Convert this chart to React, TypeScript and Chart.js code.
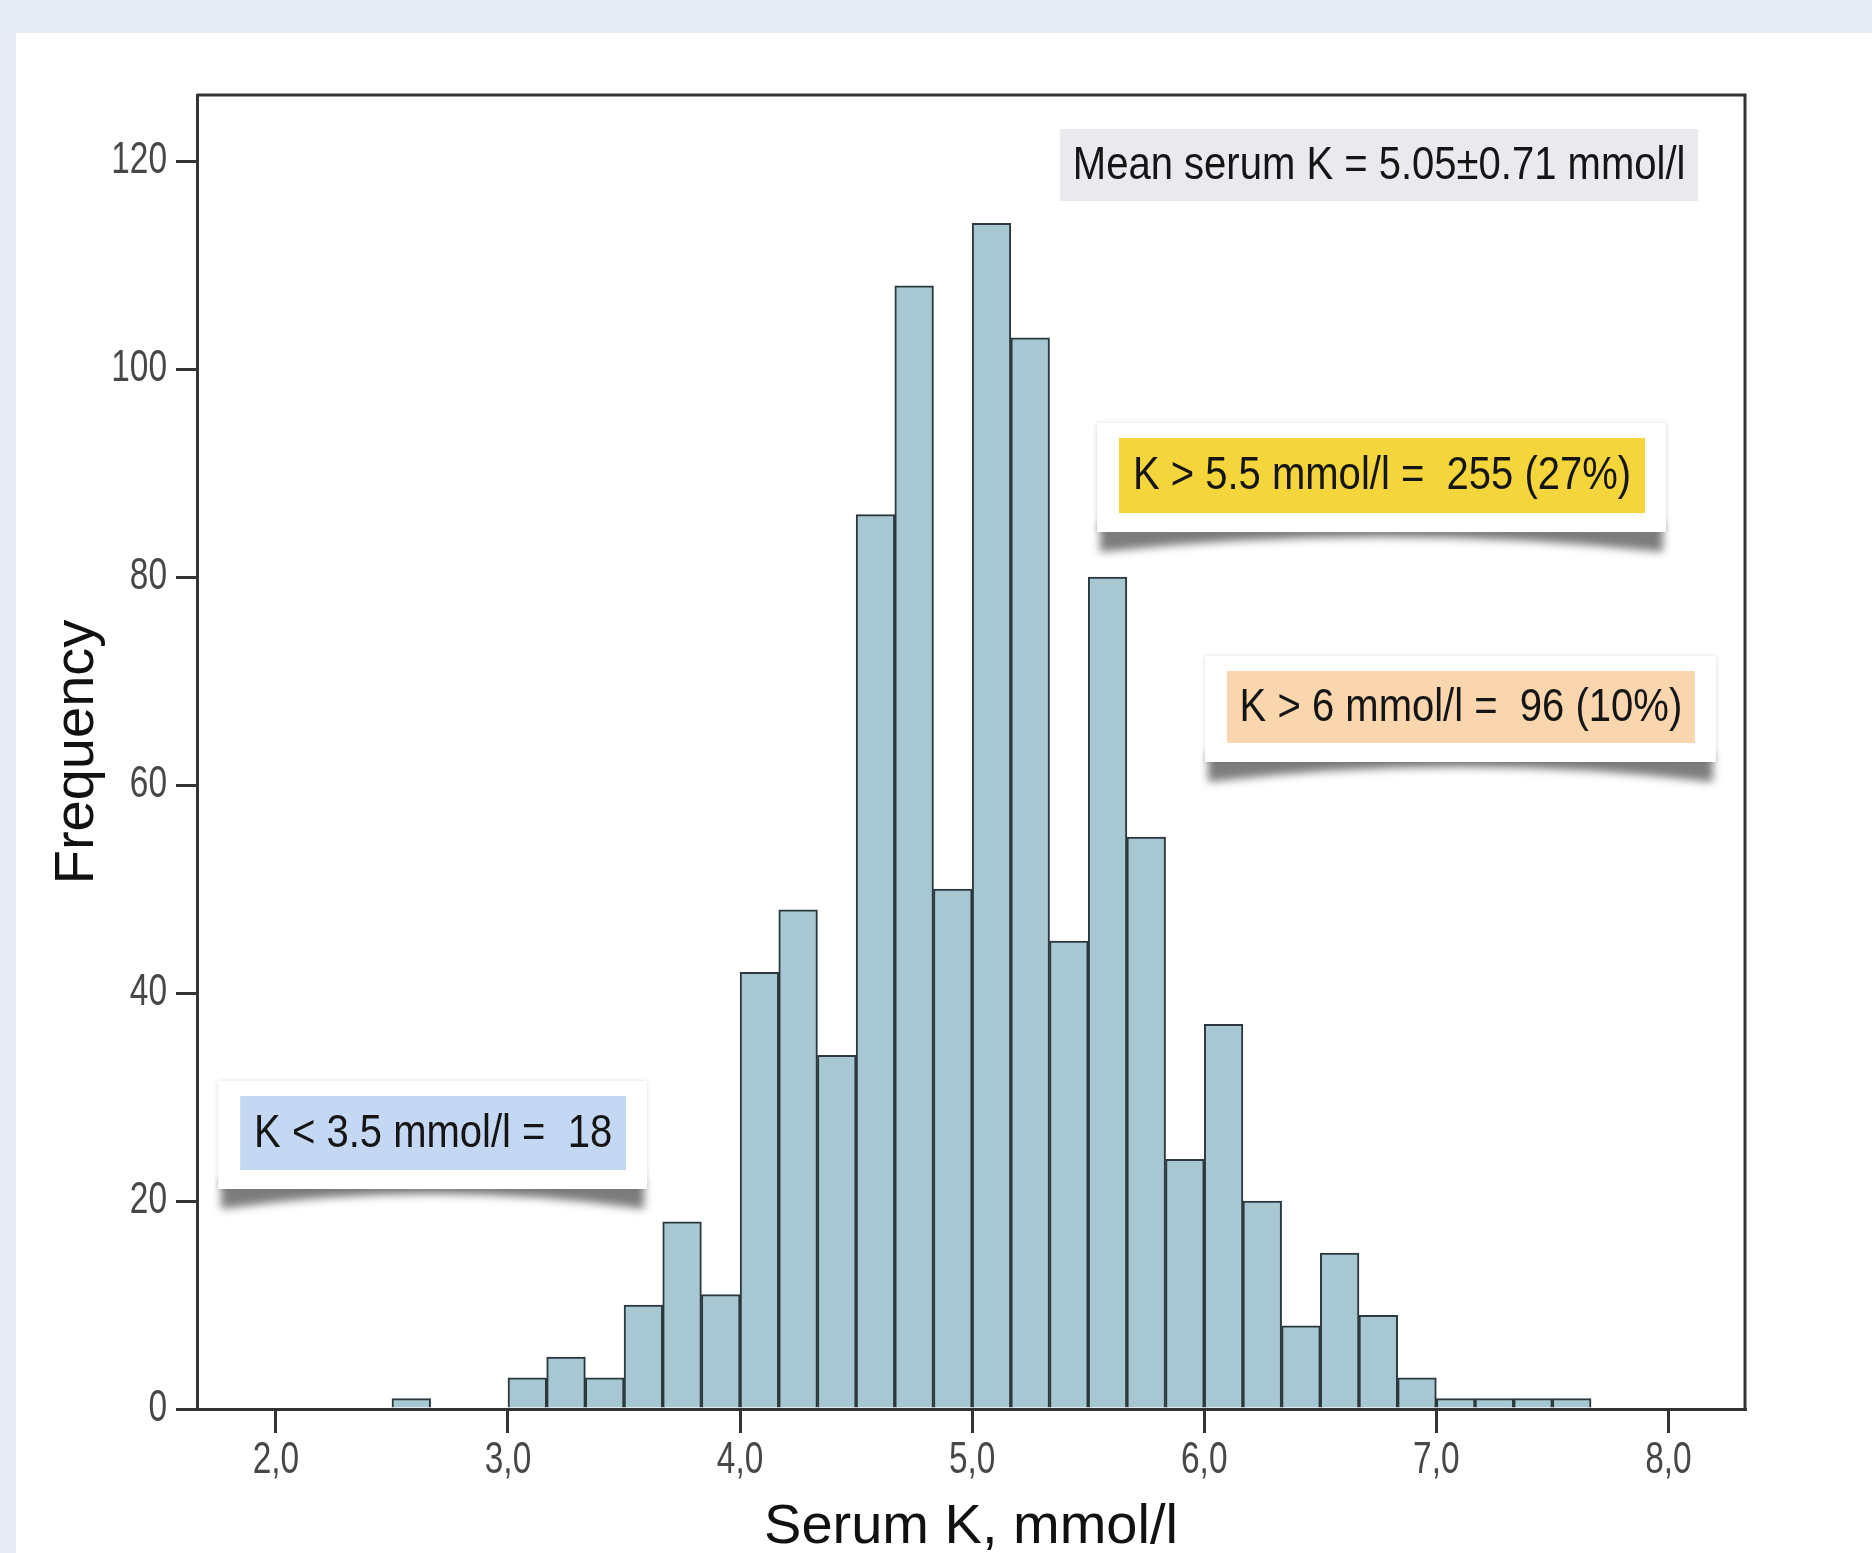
import React, { useEffect, useRef } from "react";
import { Chart, registerables } from "chart.js";

Chart.register(...registerables);

// ---- data ----
const BIN_LOWER = [
  2.5,
  3.0, 3.1667, 3.3333, 3.5, 3.6667, 3.8333,
  4.0, 4.1667, 4.3333, 4.5, 4.6667, 4.8333,
  5.0, 5.1667, 5.3333, 5.5, 5.6667, 5.8333,
  6.0, 6.1667, 6.3333, 6.5, 6.6667, 6.8333,
  7.0, 7.1667, 7.3333, 7.5,
];
const FREQUENCY = [
  1,
  3, 5, 3, 10, 18, 11,
  42, 48, 34, 86, 108, 50,
  114, 103, 45, 80, 55, 24,
  37, 20, 8, 15, 9, 3,
  1, 1, 1, 1,
];
const BIN_WIDTH = 1 / 6;
const X_TICKS = [2, 3, 4, 5, 6, 7, 8];
const X_TICK_LABELS = ["2,0", "3,0", "4,0", "5,0", "6,0", "7,0", "8,0"];
const Y_TICKS = [0, 20, 40, 60, 80, 100, 120];
const Y_TICK_LABELS = ["0", "20", "40", "60", "80", "100", "120"];
const NOTE_TEXTS = [
  "Mean serum K = 5.05\u00b10.71 mmol/l",
  "K > 5.5 mmol/l =  255 (27%)",
  "K > 6 mmol/l =  96 (10%)",
  "K < 3.5 mmol/l =  18",
];

// ---- annotation placement (data units) & styles ----
const NOTES = [
  { x0: 5.379, x1: 8.128, y0: 116.15, y1: 123.08, bg: "#e9e9ee", card: false },
  { x0: 5.633, x1: 7.899, y0: 86.15, y1: 93.37, bg: "#f4d53c", card: true },
  { x0: 6.098, x1: 8.114, y0: 64.04, y1: 70.96, bg: "#f9d6ae", card: true },
  { x0: 1.846, x1: 3.509, y0: 22.98, y1: 30.1, bg: "#c5d8f3", card: true },
];

const SANS = "'Liberation Sans', Arial, sans-serif";

function condensedText(ctx: any, text: string, x: number, y: number, size: number, sx: number, align: string, color: string) {
  ctx.save();
  ctx.translate(x, y);
  ctx.scale(sx, 1);
  ctx.font = `${size}px ${SANS}`;
  ctx.fillStyle = color;
  ctx.textAlign = align;
  ctx.textBaseline = "middle";
  ctx.fillText(text, 0, 0);
  ctx.restore();
}

const notesPlugin = {
  id: "frameAndNotes",
  afterDraw(chart: any) {
    const { ctx, chartArea: a, scales } = chart;
    const xs = scales.x;
    const ys = scales.y;
    ctx.save();
    // top & right frame
    ctx.strokeStyle = "#333";
    ctx.lineWidth = 3;
    ctx.beginPath();
    ctx.moveTo(a.left, a.top);
    ctx.lineTo(a.right, a.top);
    ctx.lineTo(a.right, a.bottom);
    ctx.stroke();

    // tick labels (condensed, as in the original)
    Y_TICKS.forEach((v, i) => {
      condensedText(ctx, Y_TICK_LABELS[i], a.left - 30, ys.getPixelForValue(v), 44, 0.76, "right", "#474747");
    });
    X_TICKS.forEach((v, i) => {
      condensedText(ctx, X_TICK_LABELS[i], xs.getPixelForValue(v), a.bottom + 52, 44, 0.76, "center", "#474747");
    });

    NOTES.forEach((n, i) => {
      const x0 = xs.getPixelForValue(n.x0);
      const x1 = xs.getPixelForValue(n.x1);
      const yTop = ys.getPixelForValue(n.y1);
      const yBot = ys.getPixelForValue(n.y0);
      if (n.card) {
        const cx0 = x0 - 22;
        const cx1 = x1 + 21;
        const cy0 = yTop - 15;
        const cy1 = yBot + 19;
        // curled shadow
        ctx.save();
        ctx.filter = "blur(4px)";
        ctx.fillStyle = "rgba(70,70,70,0.7)";
        ctx.beginPath();
        ctx.moveTo(cx0 + 3, cy1 - 10);
        ctx.lineTo(cx0 + 3, cy1 + 20);
        ctx.quadraticCurveTo((cx0 + cx1) / 2, cy1 - 10, cx1 - 3, cy1 + 20);
        ctx.lineTo(cx1 - 3, cy1 - 10);
        ctx.closePath();
        ctx.fill();
        ctx.restore();
        // card
        ctx.save();
        ctx.shadowColor = "rgba(0,0,0,0.18)";
        ctx.shadowBlur = 5;
        ctx.fillStyle = "#ffffff";
        ctx.fillRect(cx0, cy0, cx1 - cx0, cy1 - cy0);
        ctx.restore();
      }
      ctx.fillStyle = n.bg;
      ctx.fillRect(x0, yTop, x1 - x0, yBot - yTop);
      condensedText(ctx, NOTE_TEXTS[i], (x0 + x1) / 2, (yTop + yBot) / 2 + 1, 46, 0.87, "center", "#151515");
    });
    ctx.restore();
  },
};

export default function App() {
  const ref = useRef<HTMLCanvasElement | null>(null);

  useEffect(() => {
    if (!ref.current) return;
    const data = BIN_LOWER.map((lo, i) => ({ x: lo + BIN_WIDTH / 2, y: FREQUENCY[i] }));
    const chart = new Chart(ref.current, {
      type: "bar",
      data: {
        datasets: [
          {
            data: data as any,
            backgroundColor: "#a7c7d2",
            borderColor: "#2b383d",
            borderWidth: 2,
            borderSkipped: "start",
            categoryPercentage: 1,
            barPercentage: 1,
          },
        ],
      },
      options: {
        responsive: false,
        animation: false,
        devicePixelRatio: 1,
        layout: { padding: { left: 0, top: 95, right: 127, bottom: 0 } },
        plugins: { legend: { display: false }, tooltip: { enabled: false }, title: { display: false } },
        scales: {
          x: {
            type: "linear",
            offset: false,
            min: 1.66,
            max: 8.33,
            afterBuildTicks: (s: any) => {
              s.ticks = X_TICKS.map((v) => ({ value: v }));
            },
            afterFit: (s: any) => {
              s.height = 144;
            },
            ticks: { display: false, autoSkip: false },
            grid: {
              display: true,
              offset: false,
              drawOnChartArea: false,
              drawTicks: true,
              tickLength: 24,
              tickWidth: 3,
              tickColor: "#333",
              lineWidth: 3,
              color: "#333",
            },
            border: { display: true, color: "#333", width: 3 },
            title: {
              display: true,
              text: "Serum K, mmol/l",
              font: { family: SANS, size: 56, lineHeight: 0.9 },
              color: "#111",
              padding: { top: 0, bottom: 0 },
            },
          },
          y: {
            type: "linear",
            min: 0,
            max: 126.35,
            afterBuildTicks: (s: any) => {
              s.ticks = Y_TICKS.map((v) => ({ value: v }));
            },
            afterFit: (s: any) => {
              s.width = 197;
            },
            ticks: { display: false, autoSkip: false },
            grid: {
              display: true,
              drawOnChartArea: false,
              drawTicks: true,
              tickLength: 21,
              tickWidth: 3,
              tickColor: "#333",
              lineWidth: 3,
              color: "#333",
            },
            border: { display: true, color: "#333", width: 3 },
            title: {
              display: true,
              text: "Frequency",
              font: { family: SANS, size: 56 },
              color: "#111",
              padding: { top: 44, bottom: 0 },
            },
          },
        },
      },
      plugins: [notesPlugin],
    });
    return () => chart.destroy();
  }, []);

  return (
    <div
      style={{
        position: "fixed",
        left: 0,
        top: 0,
        width: 1872,
        height: 1553,
        background: "#e4ebf5",
        overflow: "hidden",
      }}
    >
      <div
        style={{
          position: "absolute",
          left: 16,
          top: 33,
          right: 0,
          bottom: 0,
          background: "#ffffff",
        }}
      />
      <canvas
        ref={ref}
        width={1872}
        height={1553}
        style={{ position: "absolute", left: 0, top: 0, width: 1872, height: 1553, display: "block" }}
      />
    </div>
  );
}
